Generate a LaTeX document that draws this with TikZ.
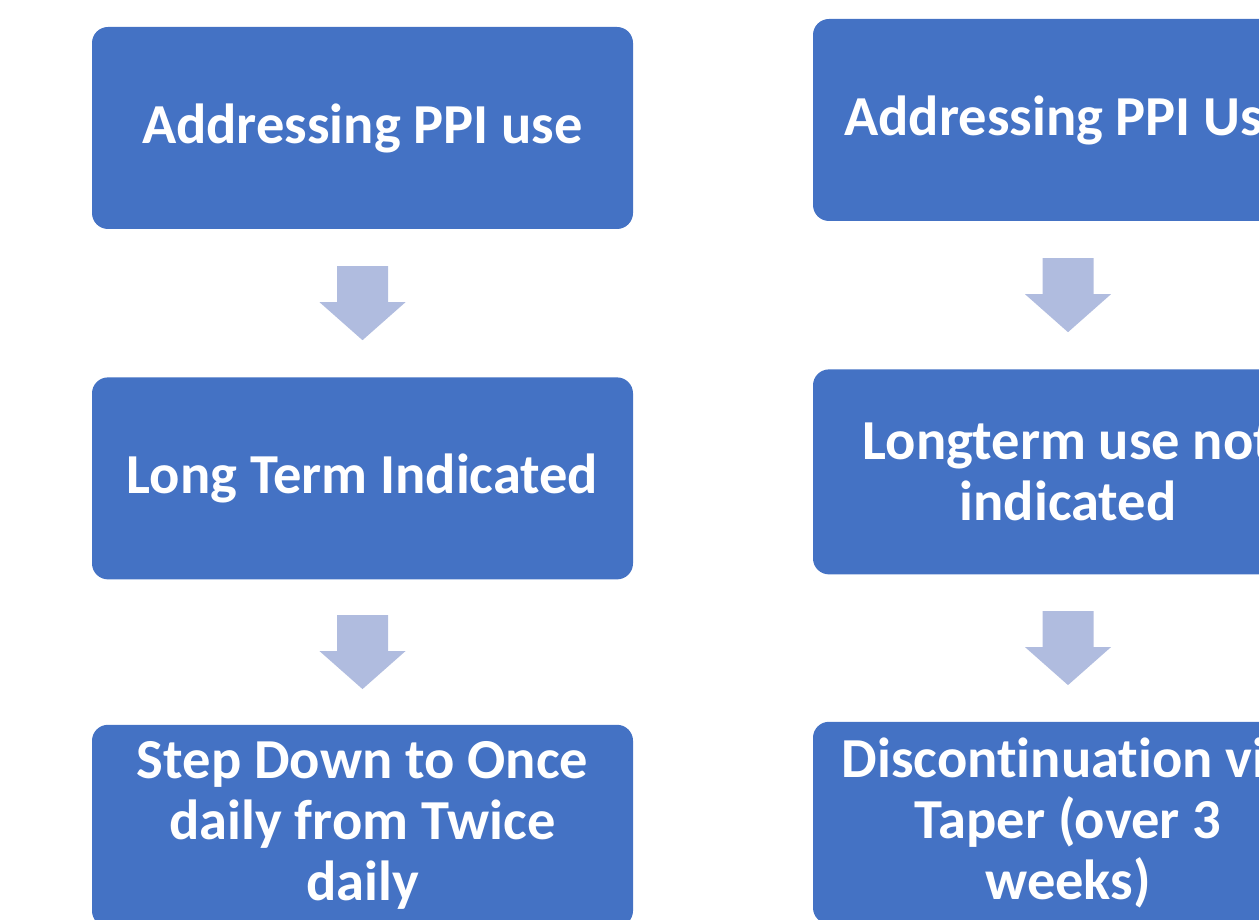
\documentclass[tikz,border=0pt]{standalone}
\usepackage{fontspec}
\setmainfont{Carlito}[Ligatures=NoCommon]
\usepackage{tikz}
\usetikzlibrary{positioning,calc}
\definecolor{boxblue}{HTML}{4472C4}
\definecolor{arrowblue}{HTML}{B0BCDF}
\tikzset{
  stepbox/.style={rectangle, rounded corners=16pt, fill=boxblue, text=white,
    minimum height=202pt, inner sep=0pt, align=center,
    font=\fontsize{56.5}{61}\selectfont\bfseries},
  blockarrow/.pic={\fill[arrowblue] (-25.5,37) -- (25.5,37) -- (25.5,1) -- (43,1)
    -- (0,-37) -- (-43,1) -- (-25.5,1) -- cycle;}
}
\begin{document}
\begin{tikzpicture}[x=1pt, y=1pt]
\useasboundingbox (0,0) rectangle (1259,920);
\clip (0,0) rectangle (1259,920);
\node (A) [stepbox, minimum width=541pt] at (362.5,792) {Addressing PPI use};
\node (B) [stepbox, minimum width=541pt, below=148pt of A] {Long Term Indicated};
\node (C) [stepbox, minimum width=541pt, below=145pt of B] {Step Down to Once\\daily from Twice\\daily};
\node (P) [stepbox, minimum width=510pt] at (1068,800) {Addressing PPI Use};
\node (Q) [stepbox, minimum width=510pt, minimum height=205pt, below=148pt of P] {Longterm use not\\indicated};
\node (R) [stepbox, minimum width=510pt, below=147pt of Q] {Discontinuation via\\Taper (over 3\\weeks)};

\pic at ($(A.south)!0.5!(B.north)$) {blockarrow};
\pic at ($(B.south)!0.5!(C.north)$) {blockarrow};
\pic at ($(P.south)!0.5!(Q.north)$) {blockarrow};
\pic at ($(Q.south)!0.5!(R.north)$) {blockarrow};
\end{tikzpicture}
\end{document}
